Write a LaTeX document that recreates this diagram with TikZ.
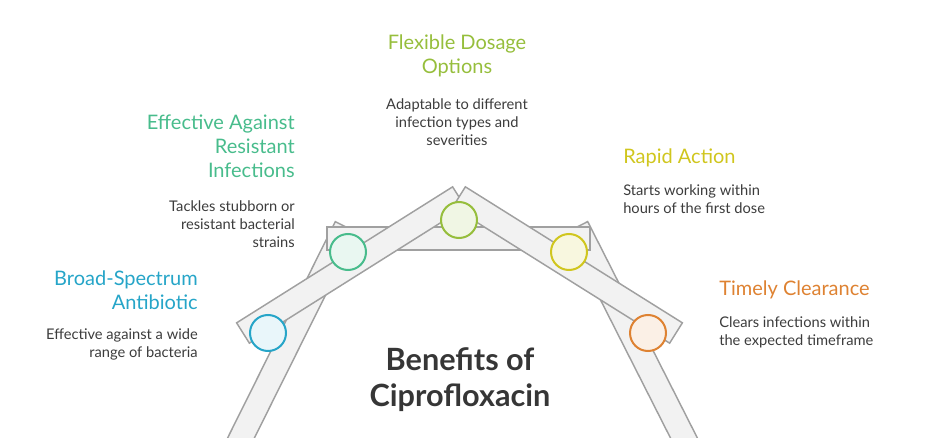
\documentclass[tikz,border=0pt]{standalone}
\usepackage{fontspec}
\setmainfont{Lato}
\usetikzlibrary{calc}

\definecolor{barfill}{RGB}{242,242,242}
\definecolor{baredge}{RGB}{160,160,160}
\definecolor{cblue}{RGB}{38,165,200}
\definecolor{cgreen}{RGB}{72,188,140}
\definecolor{colive}{RGB}{150,190,60}
\definecolor{cyellow}{RGB}{208,198,30}
\definecolor{corange}{RGB}{222,130,50}
\definecolor{bodytext}{RGB}{60,60,60}

\tikzset{
  bar/.style={fill=barfill, draw=baredge, line width=1.1pt, line join=miter},
  dot/.style={circle, minimum size=27pt, inner sep=0pt, line width=1.5pt},
  head/.style={font=\fontsize{15}{18}\selectfont, inner sep=0pt},
  body/.style={font=\fontsize{11}{13.5}\selectfont, text=bodytext, inner sep=0pt},
}
\newcommand{\drawbar}[3]{%
  \filldraw[bar] ($(#1)!#3!90:(#2)$) -- ($(#2)!#3!-90:(#1)$) -- ($(#2)!#3!90:(#1)$) -- ($(#1)!#3!-90:(#2)$) -- cycle;}

\begin{document}
\begin{tikzpicture}[x=0.75pt,y=0.75pt,yscale=-1,xscale=1]
\useasboundingbox (0,0) rectangle (925,438);

% bar ends
\coordinate (lfoot) at (236,448);
\coordinate (ltop) at (346,227);
\coordinate (rfoot) at (689,448);
\coordinate (rtop) at (577,227);
\coordinate (hleft) at (327,238.5);
\coordinate (hright) at (590,238.5);
\coordinate (cleft) at (243,333);
\coordinate (apex) at (459,197);
\coordinate (cright) at (676,333);

% bars
\drawbar{lfoot}{ltop}{9pt}
\drawbar{rfoot}{rtop}{9pt}
\drawbar{hleft}{hright}{8.6pt}
\drawbar{cleft}{apex}{9pt}
\drawbar{cright}{apex}{9pt}

% dots
\node[dot, draw=cblue, fill=cblue!10] (dblue) at (268,333) {};
\node[dot, draw=cgreen, fill=cgreen!12] (dgreen) at (348,252) {};
\node[dot, draw=colive, fill=colive!14] (dolive) at (459,220) {};
\node[dot, draw=cyellow, fill=cyellow!14] (dyellow) at (569,252) {};
\node[dot, draw=corange, fill=corange!12] (dorange) at (648,333) {};

% labels
\node[head, text=cgreen, align=right, anchor=east] (hgreen) at (295,146) {Effective Against\\Resistant\\Infections};
\node[body, align=right, anchor=east] (tgreen) at (295,224) {Tackles stubborn or\\resistant bacterial\\strains};
\node[head, text=cblue, align=right, anchor=east] (hblue) at (198,290) {Broad-Spectrum\\Antibiotic};
\node[body, align=right, anchor=east] (tblue) at (198,344) {Effective against a wide\\range of bacteria};
\node[head, text=colive, align=center] (holive) at (457,56) {Flexible Dosage\\Options};
\node[body, align=center] (tolive) at (457,122) {Adaptable to different\\infection types and\\severities};
\node[head, text=cyellow, align=left, anchor=west] (hyellow) at (623,158) {Rapid Action};
\node[body, align=left, anchor=west] (tyellow) at (623,199) {Starts working within\\hours of the first dose};
\node[head, text=corange, align=left, anchor=west] (horange) at (719,290) {Timely Clearance};
\node[body, align=left, anchor=west] (torange) at (719,332) {Clears infections within\\the expected timeframe};

% title
\node[font=\fontsize{23}{27}\selectfont\bfseries, text=bodytext!90!black, align=center] (title) at (460,380) {Benefits of\\Ciprofloxacin};

\end{tikzpicture}
\end{document}
